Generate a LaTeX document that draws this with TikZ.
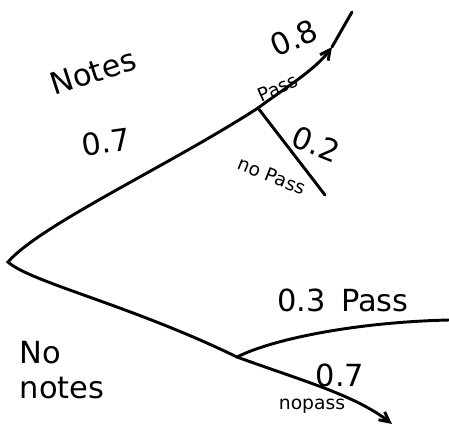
\documentclass[tikz,border=0pt]{standalone}
\usepackage{fontspec}
\setmainfont{DejaVu Sans}
\usetikzlibrary{arrows.meta, calc}
\tikzset{
    branch/.style={
        line width=2.5pt, draw=black, line cap=round,
    },
    endbranch/.style={
        branch, -{Straight Barb[length=3mm, width=3mm]},
    },
    biglab/.style={
        font=\fontsize{26}{30}\selectfont, inner sep=0pt, align=left,
    },
    smalllab/.style={
        font=\fontsize{16}{18}\selectfont, inner sep=0pt,
    },
}

\begin{document}
\begin{tikzpicture}[x=0.03cm, y=-0.03cm]

% ============================================================
%   Frame (keeps the reference's margins)
% ============================================================
\path[use as bounding box] (0,0) rectangle (449,429);

% ============================================================
%   Tree points
% ============================================================
\coordinate (root)   at (8,262);
\coordinate (splitA) at (258,108);
\coordinate (splitB) at (237,357);
\coordinate (tipAP)  at (332,47);
\coordinate (endAP)  at (352,12);
\coordinate (endAN)  at (325,195);
\coordinate (endBP)  at (449,320);
\coordinate (endBN)  at (392,424);

% ============================================================
%   Branches
% ============================================================
\draw[branch] (splitA) .. controls (170,165) and (40,225) .. (root)
    .. controls (30,282) and (130,305) .. (splitB);
\draw[endbranch] (splitA) .. controls (285,88) and (315,70) .. (tipAP);
\draw[branch] (tipAP) -- (endAP);
\draw[branch] (splitA) -- (endAN);
\draw[branch] (splitB) .. controls (275,338) and (360,322) .. (endBP);
\draw[endbranch] (splitB) .. controls (300,380) and (355,395) .. (endBN);

% ============================================================
%   Labels
% ============================================================
\node[biglab, rotate=18] (notes) at (93,72) {Notes};
\node[biglab, rotate=8] (pA) at (106,142) {0.7};
\node[smalllab, rotate=24] (passA) at (278,88) {Pass};
\node[biglab, rotate=24] (pAP) at (294,38) {0.8};
\node[biglab, rotate=-22] (pAN) at (316,144) {0.2};
\node[smalllab, rotate=-22] (nopassA) at (272,176) {no Pass};
\node[biglab] (pBP) at (343,300) {0.3\enspace Pass};
\node[biglab] (nonotes) at (62,370) {No\\notes};
\node[biglab] (pBN) at (340,375) {0.7};
\node[smalllab] (nopassB) at (312,406) {nopass};

\end{tikzpicture}
\end{document}
